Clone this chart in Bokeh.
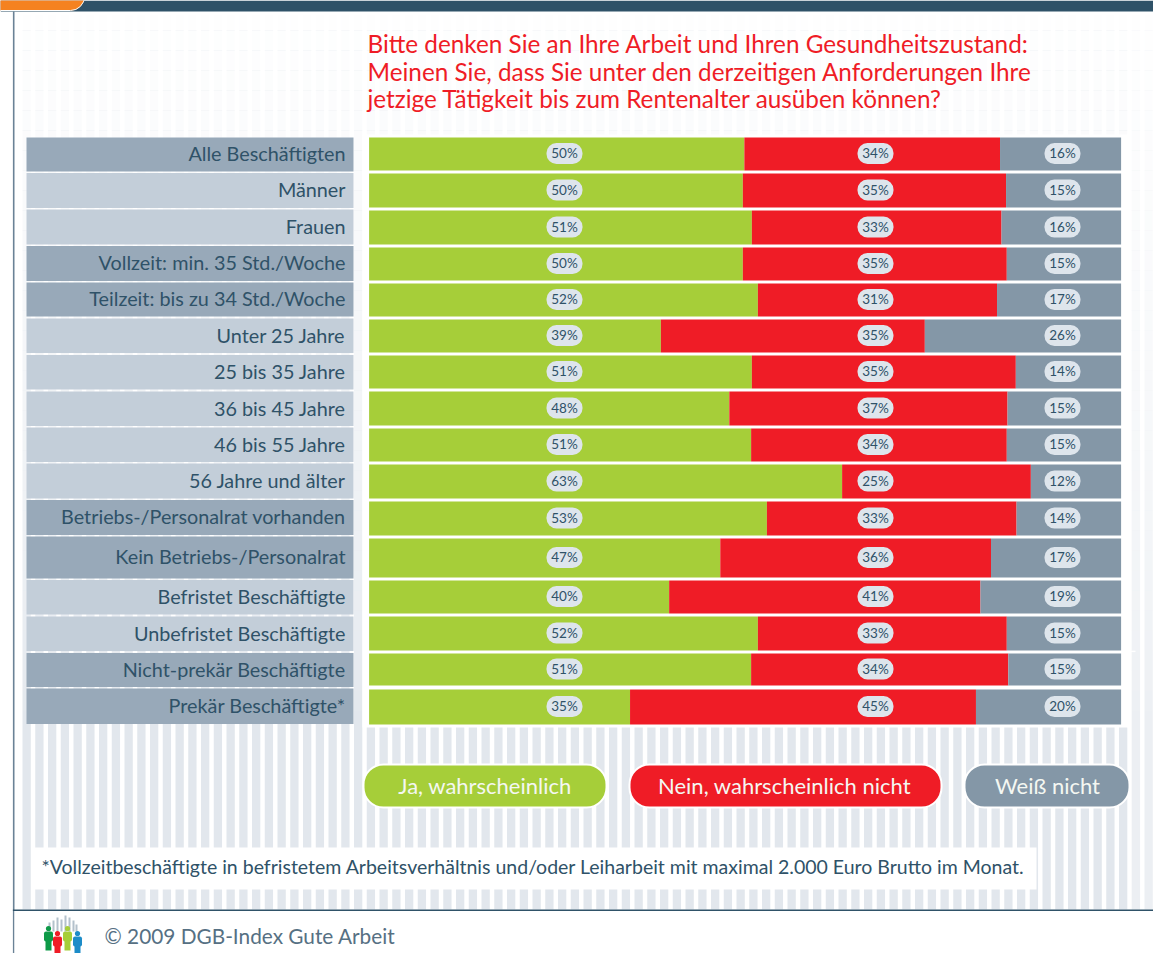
from bokeh.plotting import figure
from bokeh.models import Range1d
from bokeh.core.properties import value
from bokeh.embed import file_html
from bokeh.resources import INLINE

categories = ["Alle Beschäftigten", "Männer", "Frauen", "Vollzeit: min. 35 Std./Woche",
              "Teilzeit: bis zu 34 Std./Woche", "Unter 25 Jahre", "25 bis 35 Jahre", "36 bis 45 Jahre",
              "46 bis 55 Jahre", "56 Jahre und älter", "Betriebs-/Personalrat vorhanden",
              "Kein Betriebs-/Personalrat", "Befristet Beschäftigte", "Unbefristet Beschäftigte",
              "Nicht-prekär Beschäftigte", "Prekär Beschäftigte*"]
ja = [49.9, 49.7, 50.9, 49.7, 51.7, 38.8, 50.9, 47.9, 50.8, 62.9, 52.9, 46.7, 39.9, 51.7, 50.8, 34.7]
nein = [34.0, 35.0, 33.2, 35.1, 31.8, 35.1, 35.1, 37.0, 34.0, 25.1, 33.2, 36.0, 41.4, 33.1, 34.2, 46.0]
weiss = [16.1, 15.3, 15.9, 15.2, 16.5, 26.1, 14.0, 15.1, 15.2, 12.0, 13.9, 17.3, 18.7, 15.2, 15.0, 19.3]
ja_labels = ["50%", "50%", "51%", "50%", "52%", "39%", "51%", "48%", "51%", "63%", "53%", "47%", "40%", "52%", "51%", "35%"]
nein_labels = ["34%", "35%", "33%", "35%", "31%", "35%", "35%", "37%", "34%", "25%", "33%", "36%", "41%", "33%", "34%", "45%"]
weiss_labels = ["16%", "15%", "16%", "15%", "17%", "26%", "14%", "15%", "15%", "12%", "14%", "17%", "19%", "15%", "15%", "20%"]
legend_labels = ["Ja, wahrscheinlich", "Nein, wahrscheinlich nicht", "Weiß nicht"]
title_lines = ["Bitte denken Sie an Ihre Arbeit und Ihren Gesundheitszustand:",
               "Meinen Sie, dass Sie unter den derzeitigen Anforderungen Ihre",
               "jetzige Tätigkeit bis zum Rentenalter ausüben können?"]
footnote = "*Vollzeitbeschäftigte in befristetem Arbeitsverhältnis und/oder Leiharbeit mit maximal 2.000 Euro Brutto im Monat."
copyright_text = "© 2009 DGB-Index Gute Arbeit"

# layout (page pixels)
W, H = 1153, 953
BAR_X0, BAR_W = 368.6, 752
bar_top = [137, 173, 210, 247, 283, 319, 355, 391, 428, 464, 501, 538, 580, 616, 653, 689]
bar_bot = [170, 207, 244, 280, 316, 352, 388, 425, 461, 498, 535, 577, 613, 650, 685, 724]
tile_top = [137, 172.5, 209, 245.5, 282, 318, 354.5, 391, 427, 463, 499.5, 536, 579.5, 616, 652.5, 688]
tile_bot = [171, 207.5, 244, 280.5, 316, 352.5, 389, 425.5, 461.5, 498, 534.5, 578, 614, 650.5, 686.5, 723.5]
dark_rows = {0, 3, 4, 10, 11, 14, 15}
GREEN, RED, GREY = "#A6CE39", "#EF1C26", "#8497A7"
NAVY = "#2F5268"
FONT = value("Lato")

p = figure(width=W, height=H, x_range=Range1d(0, W), y_range=Range1d(H, 0),
           x_axis_type=None, y_axis_type=None, toolbar_location=None, output_backend="svg",
           min_border=0, outline_line_color=None, background_fill_color="white",
           border_fill_color="white")
p.xgrid.visible = False
p.ygrid.visible = False
p.extra_x_ranges["pct"] = Range1d(-BAR_X0 / BAR_W * 100, (W - BAR_X0) / BAR_W * 100)

# striped background
sx = []
x = 22.0
while x < W:
    sx.append(x)
    x += 12.75
p.quad(left=sx, right=[s + 8.3 for s in sx], top=14, bottom=909, fill_color="#E2E7ED", line_color=None)
# fade the stripes towards the top with white veils
n = 36
y0, y1 = 10, 730
for i in range(n):
    t = i / (n - 1)
    p.quad(left=[14], right=[W], top=[y0 + (y1 - y0) * i / n], bottom=[y0 + (y1 - y0) * (i + 1) / n],
           fill_color="white", fill_alpha=0.95 * (1 - t) ** 0.65, line_color=None)
p.quad(left=[1131], right=[W], top=[10], bottom=[909], fill_color="white", fill_alpha=0.35, line_color=None)

# white panels
p.quad(left=[362], right=[1129], top=[134], bottom=[727], fill_color="white", line_color=None)
p.quad(left=[1121], right=[1135], top=[650.2], bottom=[651.6], fill_color="white", line_color=None)
p.quad(left=[33], right=[1036], top=[847], bottom=[889], fill_color="white", line_color=None)

# header / frame
p.quad(left=[0], right=[W], top=[0], bottom=[11], fill_color=NAVY, line_color=None)
p.quad(left=[-20], right=[84], top=[-20], bottom=[10], fill_color="#F58220", line_color="white",
       line_width=1, border_radius={"top_left": 0, "top_right": 0, "bottom_right": 14, "bottom_left": 0})
p.quad(left=[12.4], right=[14], top=[11], bottom=[H], fill_color="#6A8296", line_color=None)
p.quad(left=[14], right=[W], top=[910.4], bottom=[H], fill_color="white", line_color=None)
p.quad(left=[12.4], right=[W], top=[909], bottom=[910.4], fill_color=NAVY, line_color=None)

# title
p.text(x=[367] * 3, y=[43, 70.5, 98], text=title_lines, text_color="#EF1C26", text_font=FONT,
       text_font_size="24.3px", text_baseline="middle")

# category tiles
tile_colors = ["#98A9B9" if i in dark_rows else "#C3CED9" for i in range(len(categories))]
p.quad(left=26, right=353, top=tile_top, bottom=tile_bot, fill_color=tile_colors, line_color=None)
p.text(x=[345] * len(categories), y=[(a + b) / 2 - 1.2 for a, b in zip(tile_top, tile_bot)], text=categories,
       text_color=NAVY, text_font=FONT, text_font_size="19.8px", text_align="right", text_baseline="middle")

# stacked bars
ends1 = ja
ends2 = [a + b for a, b in zip(ja, nein)]
ends3 = [a + b + c for a, b, c in zip(ja, nein, weiss)]
p.quad(left=0, right=ends1, top=bar_top, bottom=bar_bot, fill_color=GREEN, line_color=None, x_range_name="pct")
p.quad(left=ends1, right=ends2, top=bar_top, bottom=bar_bot, fill_color=RED, line_color=None, x_range_name="pct")
p.quad(left=ends2, right=ends3, top=bar_top, bottom=bar_bot, fill_color=GREY, line_color=None, x_range_name="pct")

# value pills
mid = [(a + b) / 2 for a, b in zip(bar_top, bar_bot)]
for cx, labels in ((564, ja_labels), (875, nein_labels), (1062, weiss_labels)):
    p.quad(left=cx - 18, right=cx + 18, top=[m - 11 for m in mid], bottom=[m + 10 for m in mid],
           fill_color="#DEE5EC", line_color=None, border_radius=10)
    p.text(x=[cx] * len(mid), y=[m - 0.8 for m in mid], text=labels, text_color=NAVY, text_font=FONT,
           text_font_size="13.5px", text_align="center", text_baseline="middle")

# legend
leg_l, leg_r = [363, 629, 964], [606, 941, 1129]
p.quad(left=leg_l, right=leg_r, top=764, bottom=807, fill_color=[GREEN, RED, GREY], line_color="white",
       line_width=2, border_radius=20)
p.text(x=[484.5, 784, 1047], y=[784.5] * 3, text=legend_labels, text_color="#F4F7F2", text_font=FONT,
       text_font_size="22px", text_align="center", text_baseline="middle")

# footnote / copyright
p.text(x=[41], y=[865.5], text=[footnote], text_color=NAVY, text_font=FONT, text_font_size="19.5px",
       text_baseline="middle")
p.text(x=[104], y=[934.5], text=[copyright_text], text_color="#567083", text_font=FONT, text_font_size="20.8px",
       text_baseline="middle")

# logo
lx = [48, 52, 56, 60, 64, 68, 72, 75]
lt = [922, 920, 917, 919, 915, 917, 920, 924]
p.quad(left=lx, right=[v + 2 for v in lx], top=lt, bottom=931, fill_color="#B4C1CC", line_color=None)
for cx, col, head_y, top_y, bot_y in ((48, "#0E9A48", 928, 931, 950), (57, "#EF1C26", 933, 936, 953),
                                      (67, "#A6CE39", 928, 931, 950), (77, "#1C8CC8", 933, 936, 953)):
    p.circle(x=[cx], y=[head_y], radius=2.6, fill_color=col, line_color=None)
    p.quad(left=[cx - 4.5], right=[cx + 4.5], top=[top_y], bottom=[top_y + 10], fill_color=col, line_color=None,
           border_radius=2)
    p.quad(left=[cx - 3], right=[cx + 3], top=[top_y + 9], bottom=[bot_y], fill_color=col, line_color=None)

open("out.html", "w").write(file_html(p, INLINE))
